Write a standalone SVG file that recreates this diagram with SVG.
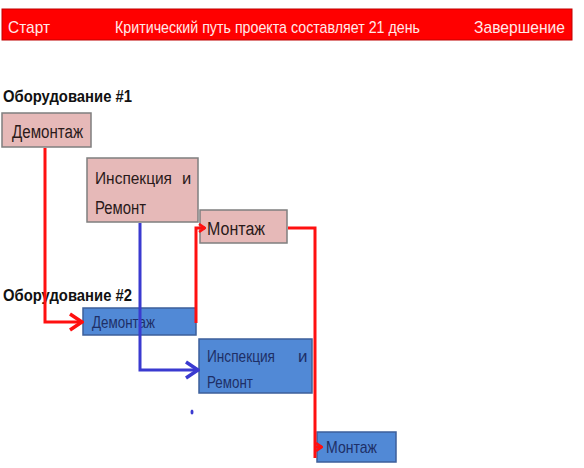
<svg xmlns="http://www.w3.org/2000/svg" width="584" height="468" viewBox="0 0 584 468">
<defs>
<style>
text{font-family:"Liberation Sans",Arial,sans-serif;}
.hdr{fill:#ffe8e8;font-size:17px;}
.lbl{font-weight:bold;font-size:17px;fill:#111;}
.pink{fill:#e6b9b8;stroke:#7f7f7f;stroke-width:1.5;}
.blue{fill:#5189d6;stroke:#3d5f9a;stroke-width:1.5;}
.pt{fill:#2a1a1a;font-size:18px;}
.bt{fill:#1e2f66;font-size:17px;}
.red{fill:none;stroke:#ff1010;stroke-width:3;}
.bl{fill:none;stroke:#3a3ad0;stroke-width:3;}
</style>
<marker id="chevR" viewBox="0 0 16 20" refX="15" refY="10" markerWidth="16" markerHeight="20" markerUnits="userSpaceOnUse" orient="auto">
<path d="M2,2 L14,10 L2,18" fill="none" stroke="#ff1010" stroke-width="3.5"/>
</marker>
<marker id="chevB" viewBox="0 0 16 20" refX="15" refY="10" markerWidth="16" markerHeight="20" markerUnits="userSpaceOnUse" orient="auto">
<path d="M2,2 L14,10 L2,18" fill="none" stroke="#3a3ad0" stroke-width="3.5"/>
</marker>
<marker id="smallR" viewBox="0 0 8 10" refX="7" refY="5" markerWidth="8" markerHeight="10" markerUnits="userSpaceOnUse" orient="auto">
<path d="M1,1 L7,5 L1,9" fill="none" stroke="#ff1010" stroke-width="2.5"/>
</marker>
</defs>
<rect width="584" height="468" fill="#ffffff"/>
<g id="header">
<rect x="2" y="9" width="570" height="31" fill="#ff0000" stroke="#c00000" stroke-width="1"/>
<text class="hdr" x="8" y="33" textLength="42" lengthAdjust="spacingAndGlyphs">Старт</text>
<text class="hdr" x="115" y="33" textLength="305" lengthAdjust="spacingAndGlyphs">Критический путь проекта составляет 21 день</text>
<text class="hdr" x="474" y="33" textLength="91" lengthAdjust="spacingAndGlyphs">Завершение</text>
</g>
<text class="lbl" x="3" y="102" textLength="129" lengthAdjust="spacingAndGlyphs">Оборудование #1</text>
<text class="lbl" x="3" y="301" textLength="129" lengthAdjust="spacingAndGlyphs">Оборудование #2</text>
<g id="n1-demontazh">
<rect class="pink" x="2" y="113" width="89" height="34"/>
<text class="pt" x="12" y="138" textLength="71" lengthAdjust="spacingAndGlyphs">Демонтаж</text>
</g>
<g id="n1-inspekciya">
<rect class="pink" x="87" y="158" width="111" height="64"/>
<text class="pt" y="184" style="font-size:16.5px"><tspan x="95" textLength="77" lengthAdjust="spacingAndGlyphs">Инспекция</tspan><tspan x="182">и</tspan></text>
<text class="pt" x="95" y="214" textLength="51" lengthAdjust="spacingAndGlyphs">Ремонт</text>
</g>
<g id="n1-montazh">
<rect class="pink" x="200" y="210" width="87" height="33"/>
<text class="pt" x="207" y="235" textLength="58" lengthAdjust="spacingAndGlyphs">Монтаж</text>
</g>
<g id="n2-demontazh">
<rect class="blue" x="83" y="308" width="113" height="27"/>
<text class="bt" x="92" y="328" textLength="63" lengthAdjust="spacingAndGlyphs">Демонтаж</text>
</g>
<g id="n2-inspekciya">
<rect class="blue" x="199" y="339" width="113" height="54"/>
<text class="bt" y="362"><tspan x="207" textLength="68" lengthAdjust="spacingAndGlyphs">Инспекция</tspan><tspan x="298">и</tspan></text>
<text class="bt" x="207" y="388" textLength="46" lengthAdjust="spacingAndGlyphs">Ремонт</text>
</g>
<g id="n2-montazh">
<rect class="blue" x="317" y="432" width="79" height="30"/>
<text class="bt" x="326" y="453" textLength="51" lengthAdjust="spacingAndGlyphs">Монтаж</text>
</g>
<g id="connectors">
<path class="red" d="M45,148 V322 H83" marker-end="url(#chevR)"/>
<path class="red" d="M196,323 V228 H205" marker-end="url(#smallR)"/>
<path class="red" d="M288,228 H315 V458"/>
<path class="red" d="M315,447 H322" marker-end="url(#smallR)"/>
<path class="bl" d="M140,223 V370 H199" marker-end="url(#chevB)"/>
<ellipse cx="192" cy="412" rx="1.5" ry="2.5" fill="#3a3ad0"/>
</g>
</svg>
